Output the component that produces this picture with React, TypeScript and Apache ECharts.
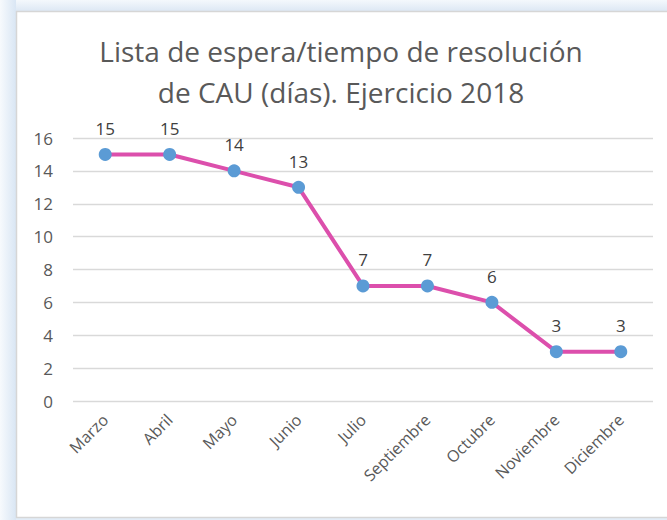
import React, { useEffect, useRef } from "react";
import * as echarts from "echarts";

const titleText = "Lista de espera/tiempo de resolución\nde CAU (días). Ejercicio 2018";
const categories = ["Marzo", "Abril", "Mayo", "Junio", "Julio", "Septiembre", "Octubre", "Noviembre", "Diciembre"];
const values = [15, 15, 14, 13, 7, 7, 6, 3, 3];
const yMin = 0;
const yMax = 16;
const yInterval = 2;

export default function App() {
  const ref = useRef<HTMLDivElement>(null);
  useEffect(() => {
    if (!ref.current) return;
    const chart = echarts.init(ref.current, null, { renderer: "svg" });
    const font = "'Open Sans', 'Noto Sans', sans-serif";
    chart.setOption({
      animation: false,
      backgroundColor: "#ffffff",
      graphic: [
        { type: "rect", z: -100, silent: true, shape: { x: 0, y: 0, width: 667, height: 520 }, style: { fill: "#e2ecf7" } },
        {
          type: "rect", z: -99, silent: true, shape: { x: 0, y: 0, width: 16, height: 520 },
          style: { fill: new echarts.graphic.LinearGradient(0, 0, 1, 0, [{ offset: 0, color: "#f7fafd" }, { offset: 1, color: "#d9e6f4" }]) },
        },
        {
          type: "rect", z: -99, silent: true, shape: { x: 16, y: 0, width: 651, height: 11 },
          style: { fill: new echarts.graphic.LinearGradient(0, 0, 0, 1, [{ offset: 0, color: "#f4f8fc" }, { offset: 1, color: "#dde8f4" }]) },
        },
        {
          type: "rect", z: -98, silent: true, shape: { x: 16.5, y: 11.5, width: 660, height: 506 },
          style: { fill: "#ffffff", stroke: "#d6d6d6", lineWidth: 1.5 },
        },
      ],
      title: {
        text: titleText,
        left: 336,
        top: 25,
        textAlign: "center",
        textStyle: { fontFamily: font, fontSize: 28, fontWeight: "normal", color: "#595959", lineHeight: 41 },
      },
      grid: { left: 73, right: 14, top: 138, bottom: 119, containLabel: false },
      xAxis: {
        type: "category",
        data: categories,
        boundaryGap: true,
        axisLine: { show: false },
        axisTick: { show: false },
        axisLabel: { rotate: 45, color: "#595959", fontFamily: font, fontSize: 16, margin: 16, interval: 0 },
      },
      yAxis: {
        type: "value",
        min: yMin,
        max: yMax,
        interval: yInterval,
        axisLine: { show: false },
        axisTick: { show: false },
        axisLabel: { color: "#595959", fontFamily: font, fontSize: 17, margin: 20 },
        splitLine: { lineStyle: { color: "#d9d9d9", width: 1.3 } },
      },
      series: [
        {
          type: "line",
          data: values,
          symbol: "circle",
          symbolSize: 13,
          lineStyle: { color: "#dc4fac", width: 4 },
          itemStyle: { color: "#5b9bd5" },
          label: { show: true, position: "top", distance: 11, color: "#404040", fontFamily: font, fontSize: 17 },
        },
      ],
    });
    return () => chart.dispose();
  }, []);
  return <div ref={ref} style={{ position: "fixed", left: 0, top: 0, width: 667, height: 520 }} />;
}
